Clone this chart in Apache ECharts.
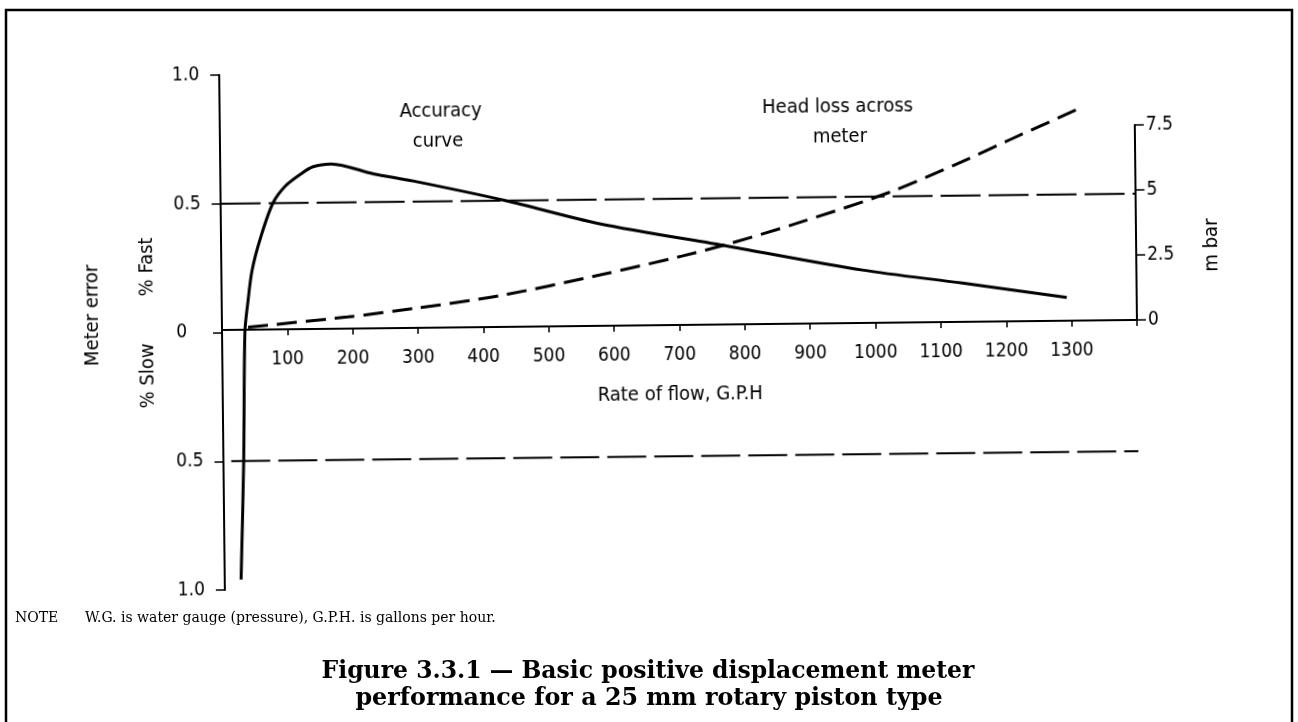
<!DOCTYPE html>
<html><head><meta charset="utf-8">
<script src="https://cdn.jsdelivr.net/npm/echarts@6/dist/echarts.min.js"></script>
<style>
html,body{margin:0;padding:0;background:#fff;width:1298px;height:722px;overflow:hidden;}
#bg,#chart{position:absolute;left:0;top:0;width:1298px;height:722px;}
#chart{transform-origin:222px 330px;transform:rotate(-0.63deg);}
</style></head><body>
<div id="bg"></div><div id="chart"></div>
<script>
// ---- data ----
const flowMin = 0, flowMax = 1400, flowStep = 100;          // Rate of flow, G.P.H
const errorMin = -1, errorMax = 1, errorStep = 0.5;          // Meter error, %
const mbarMin = 0, mbarMax = 7.5, mbarStep = 2.5;            // Head loss, m bar

const accuracyFlow  = [25, 31, 35, 40, 47, 61, 80, 99, 122, 142, 170, 234, 295, 436, 578, 777, 981, 1134, 1293];
const accuracyError = [-0.96, -0.5, 0, 0.115, 0.24, 0.37, 0.5, 0.565, 0.61, 0.64, 0.65, 0.61, 0.58, 0.5, 0.407, 0.313, 0.215, 0.16, 0.10];

const headLossFlow = [40, 193, 295, 425, 578, 705, 777, 880, 1022, 1134, 1210, 1310];
const headLossMbar = [0.1, 0.45, 0.75, 1.2, 1.95, 2.65, 3.1, 3.85, 5.0, 6.15, 7.0, 8.1];

const fastLimitFlow = [0, 1400];  const fastLimitError = [0.5, 0.5];
const slowLimitFlow = [12, 1400]; const slowLimitError = [-0.5, -0.5];

const noteLabel = 'NOTE';
const noteText = 'W.G. is water gauge (pressure), G.P.H. is gallons per hour.';
const captionLines = ['Figure 3.3.1 \u2014 Basic positive displacement meter', 'performance for a 25 mm rotary piston type'];

// ---- helpers ----
const zip = (a, b) => a.map((v, i) => [v, b[i]]);
const FONT = '"DejaVu Sans Condensed", "DejaVu Sans", sans-serif';
const ink = '#000';

// ---- background: frame + caption (not tilted) ----
const bg = echarts.init(document.getElementById('bg'), null, {renderer: 'canvas'});
bg.setOption({
  animation: false,
  graphic: [
    {type: 'rect', shape: {x: 6, y: 10, width: 1286, height: 740}, style: {fill: 'none', stroke: ink, lineWidth: 2.5}},
    {type: 'text', x: 15, y: 618, style: {text: noteLabel, font: '14px "DejaVu Serif", serif', fill: ink, verticalAlign: 'middle'}},
    {type: 'text', x: 85, y: 618, style: {text: noteText, font: '14px "DejaVu Serif", serif', fill: ink, verticalAlign: 'middle'}},
    {type: 'text', x: 648, y: 672, style: {text: captionLines[0], font: 'bold 23.5px "DejaVu Serif", serif', fill: ink, align: 'center', verticalAlign: 'middle'}},
    {type: 'text', x: 649, y: 699, style: {text: captionLines[1], font: 'bold 23.8px "DejaVu Serif", serif', fill: ink, align: 'center', verticalAlign: 'middle'}}
  ]
});

// ---- chart (slightly tilted like the scanned original) ----
const chart = echarts.init(document.getElementById('chart'), null, {renderer: 'canvas'});
const txt = (text, x, y, rot) => ({
  type: 'text', x, y, rotation: rot || 0,
  style: {text, font: '20px ' + FONT, fill: ink, align: 'center', verticalAlign: 'middle'}
});
chart.setOption({
  animation: false,
  grid: [
    {left: 222, top: 75, width: 915, height: 515, containLabel: false},
    {left: 222, top: 135, width: 915, height: 195, containLabel: false}
  ],
  xAxis: [
    {type: 'value', gridIndex: 0, min: flowMin, max: flowMax, show: false},
    {
      type: 'value', gridIndex: 1, position: 'bottom', min: flowMin, max: flowMax, interval: flowStep,
      name: 'Rate of flow, G.P.H', nameLocation: 'middle', nameGap: 60,
      nameTextStyle: {fontFamily: FONT, fontSize: 20, color: ink},
      axisLine: {show: true, onZero: false, lineStyle: {color: ink, width: 2}},
      axisTick: {show: true, length: 6, lineStyle: {color: ink, width: 1.5}},
      axisLabel: {margin: 21, fontFamily: FONT, fontSize: 19, color: ink,
        formatter: v => (v === flowMin || v === flowMax) ? '' : String(v)},
      splitLine: {show: false}
    }
  ],
  yAxis: [
    {
      type: 'value', gridIndex: 0, min: errorMin, max: errorMax, interval: errorStep,
      axisLine: {show: true, onZero: false, lineStyle: {color: ink, width: 2}},
      axisTick: {show: true, length: 9, lineStyle: {color: ink, width: 1.5}},
      axisLabel: {margin: 20, fontFamily: FONT, fontSize: 19, color: ink,
        formatter: v => v === 0 ? '{z|0}' : Math.abs(v).toFixed(1),
        rich: {z: {fontFamily: FONT, fontSize: 19, color: ink, padding: [0, 15, 0, 0]}}},
      splitLine: {show: false}
    },
    {
      type: 'value', gridIndex: 1, position: 'right', min: mbarMin, max: mbarMax, interval: mbarStep,
      axisLine: {show: true, onZero: false, lineStyle: {color: ink, width: 2}},
      axisTick: {show: true, length: 9, lineStyle: {color: ink, width: 1.5}},
      axisLabel: {margin: 11, fontFamily: FONT, fontSize: 19, color: ink, formatter: v => String(v)},
      splitLine: {show: false}
    }
  ],
  series: [
    {
      name: 'Accuracy curve', type: 'line', xAxisIndex: 0, yAxisIndex: 0,
      data: zip(accuracyFlow, accuracyError), smooth: 0.3,
      symbol: 'none', lineStyle: {color: ink, width: 3}, z: 5
    },
    {
      name: 'Fast limit', type: 'line', xAxisIndex: 0, yAxisIndex: 0,
      data: zip(fastLimitFlow, fastLimitError), symbol: 'none',
      lineStyle: {color: ink, width: 2, type: [40, 8]}
    },
    {
      name: 'Slow limit', type: 'line', xAxisIndex: 0, yAxisIndex: 0,
      data: zip(slowLimitFlow, slowLimitError), symbol: 'none',
      lineStyle: {color: ink, width: 2, type: [39, 8]}
    },
    {
      name: 'Head loss across meter', type: 'line', xAxisIndex: 1, yAxisIndex: 1,
      data: zip(headLossFlow, headLossMbar), smooth: 0.3, clip: false,
      symbol: 'none', lineStyle: {color: ink, width: 3, type: [20, 9]}
    }
  ],
  graphic: [
    txt('Accuracy', 443, 114), txt('curve', 440, 144),
    txt('Head loss across', 840, 114), txt('meter', 842, 144),
    txt('Meter error', 93, 314, Math.PI / 2),
    txt('% Fast', 148, 266, Math.PI / 2),
    txt('% Slow', 148, 375, Math.PI / 2),
    txt('m bar', 1213, 256, Math.PI / 2)
  ]
});
</script>
</body></html>
